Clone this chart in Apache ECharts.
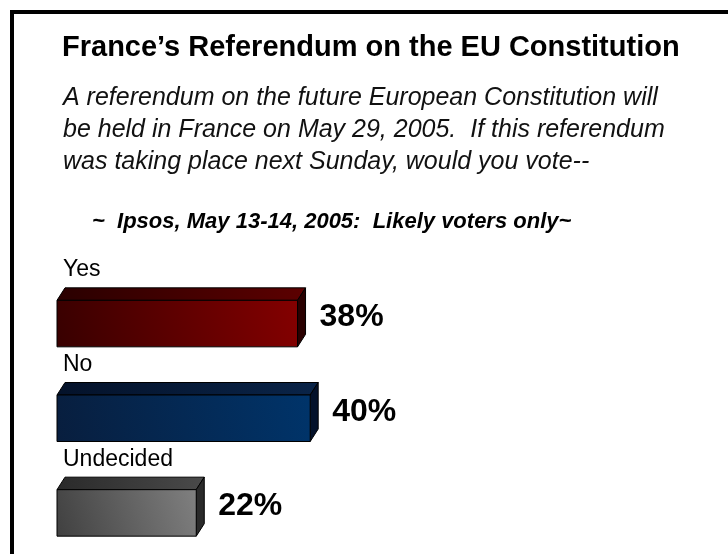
<!DOCTYPE html>
<html><head><meta charset="utf-8">
<script src="https://cdn.jsdelivr.net/npm/echarts@6/dist/echarts.min.js"></script>
<style>html,body{margin:0;padding:0;background:#fff}#c{width:728px;height:554px}</style>
</head><body><div id="c"></div>
<script>
const categories = ['Yes', 'No', 'Undecided'];
const values = [38, 40, 22];
const valueLabels = ['38%', '40%', '22%'];
const titleText = 'France\u2019s Referendum on the EU Constitution';
const questionLines = [
  'A referendum on the future European Constitution will',
  'be held in France on May 29, 2005.  If this referendum',
  'was taking place next Sunday, would you vote--'
];
const sourceText = '~  Ipsos, May 13-14, 2005:  Likely voters only~';

const palettes = [
  {front: ['#380000', '#840000'], top: ['#2a0000', '#5c0000'], side: '#2a0000'},
  {front: ['#081e3e', '#00346a'], top: ['#04122a', '#0a2448'], side: '#03112a'},
  {front: ['#404040', '#808080'], top: ['#2a2a2a', '#4a4a4a'], side: '#2a2a2a'}
];

const chart = echarts.init(document.getElementById('c'), null, {renderer: 'canvas'});
const DX = 8, DY = 12.5, H = 59;
const FONT = '"Liberation Sans", Arial, sans-serif';

function renderItem(params, api) {
  const cat = api.value(0);
  const val = api.value(1);
  const p0 = api.coord([0, cat]);
  const p1 = api.coord([val, cat]);
  const x0 = p0[0], x1 = p1[0], c = p0[1];
  const yTop = c - H / 2, yFront = yTop + DY, yBot = c + H / 2;
  const pal = palettes[params.dataIndex];
  const lin = (a, b, x, y, x2, y2) => new echarts.graphic.LinearGradient(x, y, x2, y2, [{offset: 0, color: a}, {offset: 1, color: b}]);
  const stroke = {stroke: '#000', lineWidth: 1};
  return {
    type: 'group',
    children: [
      {type: 'polygon', shape: {points: [[x0, yFront], [x0 + DX, yTop], [x1 + DX, yTop], [x1, yFront]]},
        style: Object.assign({fill: lin(pal.top[0], pal.top[1], 0, 0, 1, 0)}, stroke)},
      {type: 'polygon', shape: {points: [[x1, yFront], [x1 + DX, yTop], [x1 + DX, yBot - DY], [x1, yBot]]},
        style: Object.assign({fill: pal.side}, stroke)},
      {type: 'rect', shape: {x: x0, y: yFront, width: x1 - x0, height: yBot - yFront},
        style: Object.assign({fill: lin(pal.front[0], pal.front[1], 0, 1, 1, 0)}, stroke)},
      {type: 'text', style: {text: categories[cat], x: x0 + 6, y: yTop - 18, textVerticalAlign: 'middle',
        font: '23px ' + FONT, fill: '#000'}},
      {type: 'text', style: {text: valueLabels[params.dataIndex], x: x1 + DX + 14, y: c, textVerticalAlign: 'middle',
        font: 'bold 32px ' + FONT, fill: '#000'}}
    ]
  };
}

const option = {
  backgroundColor: '#fff',
  animation: false,
  grid: {left: 57, width: 633, top: 270, height: 284},
  xAxis: {type: 'value', min: 0, max: 100, show: false},
  yAxis: {type: 'category', data: categories, inverse: true, show: false},
  graphic: [
    {type: 'rect', shape: {x: 10, y: 10, width: 718, height: 4}, style: {fill: '#000'}},
    {type: 'rect', shape: {x: 10, y: 10, width: 4, height: 544}, style: {fill: '#000'}},
    {type: 'text', left: 62, top: 33, style: {text: titleText, font: 'bold 29px ' + FONT, fill: '#000'}},
    {type: 'text', left: 63, top: 82, style: {text: questionLines.join('\n'), lineHeight: 32,
      font: 'italic 25px ' + FONT, fill: '#111'}},
    {type: 'text', left: 92, top: 211, style: {text: sourceText, font: 'italic bold 22px ' + FONT, fill: '#000'}}
  ],
  series: [{
    type: 'custom',
    renderItem: renderItem,
    encode: {x: 1, y: 0},
    data: values.map((v, i) => [i, v])
  }]
};
chart.setOption(option);
</script></body></html>
